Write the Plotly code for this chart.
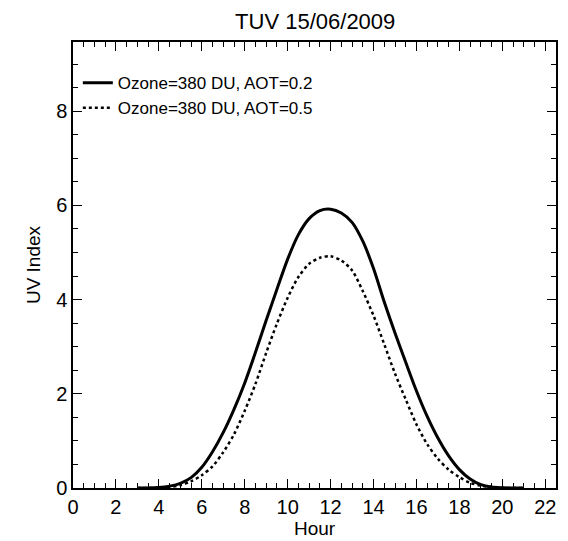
import plotly.graph_objects as go

hours = [3.0, 3.5, 4.0, 4.5, 5.0, 5.5, 6.0, 6.5, 7.0, 7.5, 8.0, 8.5, 9.0, 9.5,
         10.0, 10.5, 11.0, 11.5, 12.0, 12.5, 13.0, 13.5, 14.0, 14.5, 15.0, 15.5,
         16.0, 16.5, 17.0, 17.5, 18.0, 18.5, 19.0, 19.5, 20.0, 20.5, 21.0]

uv_aot02 = [0.0, 0.0, 0.01, 0.04, 0.10, 0.22, 0.44, 0.77, 1.18, 1.67, 2.23, 2.88,
            3.56, 4.22, 4.86, 5.38, 5.72, 5.89, 5.92, 5.84, 5.64, 5.24, 4.66, 3.95,
            3.29, 2.67, 2.06, 1.52, 1.06, 0.68, 0.39, 0.19, 0.07, 0.02, 0.005, 0.0, 0.0]

uv_aot05 = [0.0, 0.0, 0.005, 0.02, 0.06, 0.14, 0.27, 0.46, 0.76, 1.14, 1.64, 2.21,
            2.87, 3.49, 4.04, 4.48, 4.76, 4.89, 4.92, 4.83, 4.62, 4.18, 3.66, 3.05,
            2.43, 1.88, 1.35, 0.93, 0.62, 0.39, 0.23, 0.11, 0.05, 0.02, 0.005, 0.0, 0.0]

labels = ["Ozone=380 DU, AOT=0.2", "Ozone=380 DU, AOT=0.5"]
x_ticks = list(range(0, 23, 2))
y_ticks = list(range(0, 9, 2))

FONT = "Liberation Sans, Arial, Helvetica, sans-serif"

fig = go.Figure()
fig.add_trace(go.Scatter(x=hours, y=uv_aot02, mode="lines", name=labels[0],
                         line=dict(color="black", width=3, shape="spline", smoothing=0.8)))
fig.add_trace(go.Scatter(x=hours, y=uv_aot05, mode="lines", name=labels[1],
                         line=dict(color="black", width=2.5, dash="dot", shape="spline", smoothing=0.8)))

axis_common = dict(
    showgrid=False, zeroline=False, showline=True, linecolor="black", linewidth=1.5,
    mirror="ticks", ticks="inside", ticklen=9, tickwidth=1.2, tickcolor="black",
    tickfont=dict(size=20, color="black", family=FONT),
    minor=dict(ticks="inside", ticklen=5, tickwidth=1, tickcolor="black", dtick=0.5),
)

fig.update_xaxes(range=[0, 22.5], tickvals=x_ticks,
                 title=dict(text="Hour", font=dict(size=19, color="black", family=FONT), standoff=0),
                 **axis_common)
fig.update_yaxes(range=[0, 9.47], tickvals=y_ticks,
                 title=dict(text="UV Index", font=dict(size=19, color="black", family=FONT), standoff=10),
                 **axis_common)

fig.update_layout(
    width=568, height=541,
    margin=dict(l=73, r=10, t=42, b=49),
    paper_bgcolor="white", plot_bgcolor="white",
    title=dict(text="TUV 15/06/2009", x=0.555, xanchor="center", y=0.96, yanchor="middle",
               font=dict(size=22, color="black", family=FONT)),
    font=dict(family=FONT, color="black"),
    legend=dict(x=0.01, y=0.948, xanchor="left", yanchor="top",
                bgcolor="rgba(0,0,0,0)", font=dict(size=17, color="black", family=FONT),
                tracegroupgap=0, itemwidth=30),
    showlegend=True,
)

fig.write_html("out.html")
